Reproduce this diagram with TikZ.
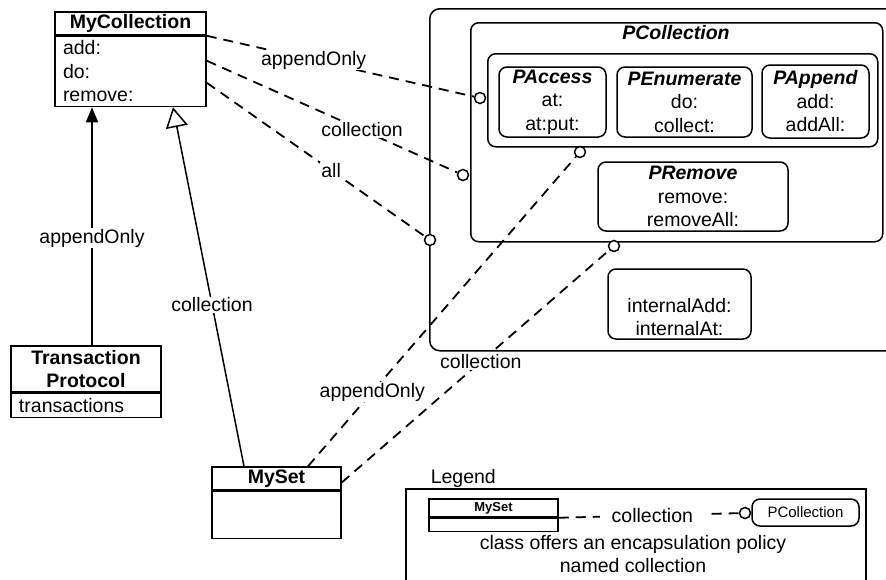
\documentclass[tikz,border=0pt]{standalone}
\usepackage{fontspec}
\setmainfont{Liberation Sans}
\usetikzlibrary{positioning,arrows.meta}

\newcommand\umlfont{\fontsize{19.5}{23.5}\selectfont}

\tikzset{clshead/.style={draw, rectangle, font=\umlfont\bfseries, align=center, inner sep=0pt},
         clsbody/.style={draw, rectangle, font=\umlfont, align=left, inner xsep=8pt, inner ysep=0pt},
         pbox/.style={draw, rounded corners=8pt, font=\umlfont, align=center, inner sep=0pt},
         lolli/.style={draw, circle, fill=white, minimum size=11pt, inner sep=0pt},
         dep/.style={line width=1.8pt, dash pattern=on 10pt off 7pt},
         lbl/.style={fill=white, inner sep=1pt, font=\umlfont}}

\begin{document}
\begin{tikzpicture}[x=1pt, y=-1pt, line width=1.5pt]
\useasboundingbox (0,0) rectangle (886,579);
\tikzstyle{every node}=[font=\umlfont]
% classes
\node[clshead, minimum width=151pt, minimum height=23pt] (mch) at (130.5,23.5) {MyCollection};
\node[clsbody, below=0pt of mch, text width=135pt, minimum height=70pt] (mcb) {add:\\do:\\remove:};
\node[clshead, minimum width=150pt, minimum height=46pt] (tph) at (86,369) {Transaction\\Protocol};
\node[clsbody, below=0pt of tph, text width=134pt, minimum height=24pt] (tpb) {transactions};
\node[clshead, minimum width=129pt, minimum height=23pt] (msh) at (276.5,478.5) {MySet};
\node[clsbody, below=0pt of msh, text width=113pt, minimum height=47pt] (msb) {};

% protocols
\node[pbox, anchor=north west, minimum width=471pt, minimum height=342pt, rounded corners=10pt] (outer) at (429,8) {};
\node[pbox, anchor=north west, minimum width=412pt, minimum height=219pt] (pcoll) at (470,22) {};
\node[font=\umlfont\bfseries\itshape, inner sep=0pt] (pctitle) at (676,33) {PCollection};
\node[pbox, anchor=north west, minimum width=390pt, minimum height=93pt] (pgroup) at (487,53) {};
\node[pbox, minimum width=107pt, minimum height=70pt] (pacc) at (552.5,102) {\textbf{\textit{PAccess}}\\at:\\at:put:};
\node[pbox, minimum width=135pt, minimum height=70pt] (penum) at (684.5,102) {\textbf{\textit{PEnumerate}}\\do:\\collect:};
\node[pbox, minimum width=107pt, minimum height=73pt] (pappend) at (815.5,101.5) {\textbf{\textit{PAppend}}\\add:\\addAll:};
\node[pbox, minimum width=190pt, minimum height=69pt] (premove) at (693,196.5) {\textbf{\textit{PRemove}}\\remove:\\removeAll:};
\node[pbox, minimum width=143pt, minimum height=70pt] (pinternal) at (679.5,304) {\strut\\internalAdd:\\internalAt:};

% lollipops
\node[lolli] (l1) at (480,98) {};
\node[lolli] (l2) at (463,175) {};
\node[lolli] (l3) at (430,240) {};
\node[lolli] (l4) at (580,152) {};
\node[lolli] (l5) at (614,246) {};

% connectors
\draw[-{Triangle[width=12pt,length=15pt]}] ([xshift=6pt]tph.north) -- ([xshift=6pt]tph.north |- mcb.south)
  node[lbl, pos=0.45] {appendOnly};
\draw[-{Triangle[open,width=22pt,length=20pt]}] ([xshift=-32.5pt]msh.north) -- ([xshift=42.5pt]mcb.south)
  node[lbl, pos=0.45] {collection};
\draw[dep] (mcb.north east) -- (l1) node[lbl, pos=0.4] {appendOnly};
\draw[dep] ([yshift=-25pt]mcb.north east) -- (l2) node[lbl, pos=0.62] {collection};
\draw[dep] ([yshift=-47pt]mcb.north east) -- (l3) node[lbl, pos=0.57] {all};
\draw[dep] ([xshift=31.5pt]msh.north) -- (l4) node[lbl, pos=0.24] {appendOnly};
\draw[dep] ([yshift=-4pt]msh.east) -- (l5) node[lbl, pos=0.52] {collection};

% legend
\node[anchor=west, inner sep=2pt] (legtitle) at (428,478) {Legend};
\node[draw, anchor=north west, minimum width=460pt, minimum height=120pt, inner sep=0pt] (legend) at (405,488) {};
\node[clshead, minimum width=129pt, minimum height=18pt, font=\fontsize{13}{15}\selectfont\bfseries] (lmsh) at (493.5,508) {MySet};
\node[clsbody, below=0pt of lmsh, text width=113pt, minimum height=13pt] (lmsb) {};
\node[pbox, minimum width=107pt, minimum height=27pt, font=\fontsize{15}{18}\selectfont] (lpc) at (805.5,512.5) {PCollection};
\node[lolli] (ll) at (745,513) {};
\draw[dep] (lmsh.south east) -- (ll) node[lbl, pos=0.52, inner xsep=12pt] {collection};
\node[align=center] (legtext) at (633,554) {class offers an encapsulation policy\\named collection};
\end{tikzpicture}
\end{document}
